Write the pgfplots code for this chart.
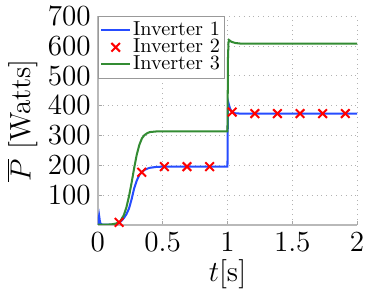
\documentclass[border=0pt]{standalone}
\usepackage{pgfplots}
\pgfplotsset{compat=1.18}
\definecolor{cblue}{rgb}{0.15,0.3,1}
\definecolor{cgreen}{rgb}{0.2,0.55,0.2}
\begin{document}
\begin{tikzpicture}
\begin{axis}[
  name=ax,
  scale only axis,
  width=128pt, height=103pt,
  xmin=0, xmax=2, ymin=0, ymax=700,
  xtick={0,0.5,1,1.5,2},
  xticklabels={0,0.5,1,1.5,2},
  ytick={100,200,300,400,500,600,700},
  axis x line*=bottom, axis y line*=left,
  axis line style={gray!55, line width=0.9pt},
  tick style={gray!70, line width=0.4pt},
  major tick length=2pt,
  tick align=inside,
  grid=major,
  major grid style={dotted, gray!60, line width=0.4pt},
  ticklabel style={font=\Large},
  label style={font=\Large},
  xlabel={$t$[s]},
  ylabel={$\overline{P}$ [Watts]},
  xlabel style={yshift=3pt},
  ylabel style={yshift=-2pt},
  legend style={at={(0,1)}, anchor=north west, draw=gray!80, fill=white,
    font=\normalsize, inner xsep=1pt, inner ysep=2.7pt, row sep=0pt,
    nodes={inner xsep=1pt, inner ysep=0pt}},
  legend cell align=left,
  legend image code/.code={\draw[mark repeat=2,mark phase=2,#1] plot coordinates {(0cm,0cm) (0.25cm,0cm) (0.5cm,0cm)};},
]
\addplot[cblue, line width=1pt] coordinates {
(0,0) (0.005,15) (0.01,30) (0.015,14) (0.02,4) (0.03,1) (0.05,0) (0.1,0) (0.14,1)
(0.16,6) (0.18,12) (0.2,22) (0.22,35) (0.24,54) (0.26,85) (0.28,122) (0.3,148)
(0.32,167) (0.34,177) (0.36,184) (0.38,188) (0.40,191) (0.45,194) (0.5,195)
(0.6,195) (0.999,195) (1.0,195) (1.003,380) (1.006,412) (1.01,405) (1.02,390)
(1.035,378) (1.06,374) (1.1,373) (2,373)};
\addlegendentry{Inverter 1}
\addplot[only marks, red, mark=x, mark size=3pt, line width=1pt] coordinates {
(0.164,8) (0.3385,176) (0.513,195) (0.6875,195) (0.862,195) (1.0365,378)
(1.211,373) (1.3855,373) (1.56,373) (1.7345,373) (1.909,373)};
\addlegendentry{Inverter 2}
\addplot[cgreen, line width=1pt] coordinates {
(0,0) (0.03,0) (0.1,1) (0.14,4) (0.17,10) (0.2,32) (0.22,58) (0.24,95) (0.26,140)
(0.28,190) (0.3,235) (0.32,268) (0.34,290) (0.36,301) (0.38,307) (0.4,311)
(0.45,313) (0.5,313) (0.999,313) (1.0,313) (1.004,560) (1.008,612) (1.012,620)
(1.03,614) (1.06,610) (1.1,608) (2,608)};
\addlegendentry{Inverter 3}
\end{axis}
\path (ax.south west) ++(-47.8pt,-37.6pt) coordinate (bl);
\path (ax.north east) ++(12.3pt,6.9pt) coordinate (tr);
\path (bl) rectangle (tr);
\end{tikzpicture}
\end{document}
